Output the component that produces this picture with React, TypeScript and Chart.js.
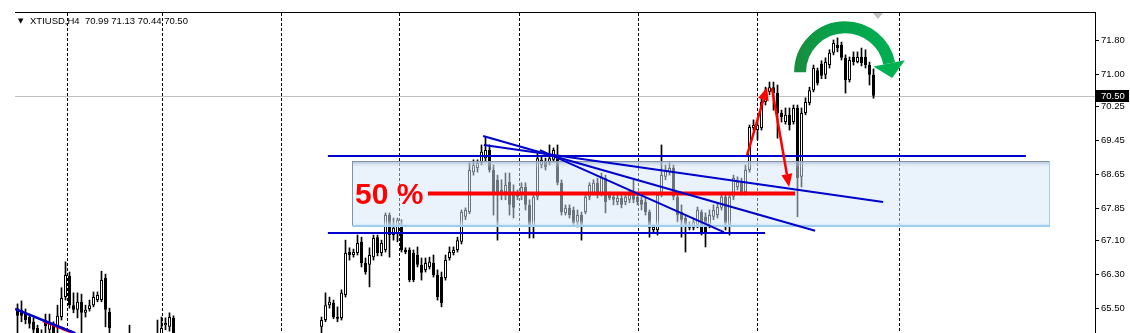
import React, { useEffect, useRef } from "react";
import { Chart, registerables } from "chart.js";

Chart.register(...registerables);

// ---- Candles (H4 XTIUSD), one slot per bar; null = bar lies below the visible window ----
const opens: (number | null)[] = [
  65.50, 65.46, 65.39, 65.29, 65.18, 65.03, 64.87, 65.22, 64.99, 65.08,
  65.06, 65.29, 65.76, 66.26, 65.57, 65.46, 65.65, 65.39, 65.48, 65.57,
  65.69, 65.69, 66.21, 65.41, null, null, null, null, 64.75, null,
  null, null, null, null, null, 64.75, 64.87, 65.10, 65.06, 65.27,
  null, null, null, null, null, null, null, null, null, null,
  null, null, null, null, null, null, null, null, null, null,
  null, null, null, null, null, null, null, null, null, null,
  null, null, null, null, null, null, 65.06, 65.22, 65.57, 65.62,
  65.29, 65.27, 65.81, 66.82, 66.75, 66.80, 67.06, 66.56, 66.52, 66.70,
  67.17, 66.80, 66.87, 67.69, 67.22, 67.27, 67.41, 66.82, 66.87, 66.80,
  66.75, 66.52, 66.40, 66.47, 66.56, 66.28, 66.23, 66.21, 66.68, 66.80,
  66.87, 67.06, 67.65, 67.76, 68.70, 68.80, 68.92, 69.03, 69.22, 68.75,
  68.52, 68.28, 68.23, 68.47, 68.16, 68.12, 68.21, 68.35, 67.93, 67.41,
  68.12, 68.87, 68.94, 68.92, 68.99, 69.03, 68.45, 67.74, 67.86, 67.81,
  67.53, 67.69, 67.76, 68.12, 68.21, 68.45, 68.21, 68.56, 68.16, 68.12,
  68.00, 68.09, 68.00, 68.05, 68.16, 68.12, 68.05, 68.00, 67.76, 67.34,
  67.34, 68.16, 68.59, 68.70, 68.80, 68.12, 67.76, 67.62, 67.39, 67.39,
  67.46, 67.76, 67.65, 67.46, 67.65, 67.69, 67.86, 68.12, 67.46, 68.12,
  68.35, 68.47, 68.23, 68.75, 69.74, 69.69, 69.74, 70.35, 70.59, 70.70,
  70.56, 70.09, 69.88, 70.05, 69.88, 70.21, 68.59, 70.09, 70.33, 70.63,
  71.10, 71.25, 70.99, 71.22, 71.51, 71.69, 71.69, 71.39, 70.87, 71.41,
  71.29, 71.41, 71.41, 71.22, 70.99,
];
const highs: (number | null)[] = [
  65.60, 65.67, 65.48, 65.36, 65.27, 65.10, 64.99, 65.36, 65.36, 65.18,
  65.57, 65.98, 66.59, 66.35, 65.86, 65.86, 65.83, 65.57, 65.69, 65.88,
  65.88, 66.37, 66.30, 65.50, null, null, null, null, 65.10, null,
  null, null, null, null, null, 65.22, 65.29, 65.27, 65.39, 65.32,
  null, null, null, null, null, null, null, null, null, null,
  null, null, null, null, null, null, null, null, null, null,
  null, null, null, null, null, null, null, null, null, null,
  null, null, null, null, null, null, 65.29, 65.86, 65.76, 65.69,
  65.53, 65.93, 67.10, 66.92, 66.89, 67.22, 67.17, 66.68, 66.92, 67.22,
  67.22, 67.10, 67.74, 67.74, 67.62, 67.62, 67.58, 66.92, 66.92, 66.87,
  66.94, 66.68, 66.68, 66.70, 66.75, 66.40, 66.35, 66.75, 66.94, 66.94,
  67.17, 67.81, 67.86, 68.92, 68.99, 68.99, 69.34, 69.53, 69.34, 68.87,
  68.63, 68.52, 68.68, 68.68, 68.40, 68.28, 68.45, 68.45, 68.05, 68.21,
  69.15, 69.06, 69.03, 69.34, 69.27, 69.34, 68.52, 67.93, 67.93, 67.88,
  67.81, 67.76, 68.21, 68.45, 68.52, 68.56, 68.68, 68.63, 68.23, 68.21,
  68.16, 68.16, 68.21, 68.28, 68.52, 68.21, 68.12, 68.09, 67.81, 67.46,
  68.21, 69.34, 68.87, 68.92, 68.87, 68.21, 67.93, 67.69, 67.53, 67.62,
  67.88, 67.81, 67.74, 67.81, 67.93, 67.98, 68.21, 68.21, 68.21, 68.63,
  68.59, 68.56, 68.87, 69.81, 69.93, 69.93, 70.45, 70.70, 70.82, 70.82,
  70.75, 70.16, 70.21, 70.21, 70.28, 70.28, 70.21, 70.45, 70.70, 71.22,
  71.15, 71.32, 71.39, 71.58, 71.81, 71.86, 71.76, 71.46, 71.41, 71.53,
  71.53, 71.62, 71.58, 71.29, 71.13,
];
const lows: (number | null)[] = [
  64.75, 65.18, 65.13, 65.03, 64.80, 64.63, 64.52, 64.87, 64.85, 64.63,
  64.87, 65.22, 65.69, 65.50, 65.39, 65.27, 64.80, 65.29, 65.43, 65.53,
  65.65, 65.65, 65.06, 64.63, null, null, null, null, 64.40, null,
  null, null, null, null, null, 64.63, 64.75, 64.99, 64.96, 64.75,
  null, null, null, null, null, null, null, null, null, null,
  null, null, null, null, null, null, null, null, null, null,
  null, null, null, null, null, null, null, null, null, null,
  null, null, null, null, null, null, 64.85, 65.18, 65.50, 65.25,
  65.18, 65.22, 65.76, 66.63, 66.70, 66.75, 66.47, 66.30, 66.00, 66.63,
  66.73, 66.73, 66.82, 66.70, 67.10, 67.06, 66.82, 66.78, 66.12, 66.12,
  66.47, 66.16, 66.35, 66.42, 66.23, 65.69, 65.53, 66.16, 66.63, 66.75,
  66.82, 67.01, 67.58, 67.72, 68.63, 68.70, 68.87, 68.94, 68.70, 67.69,
  67.10, 68.05, 68.05, 67.69, 67.62, 68.05, 68.05, 67.81, 67.15, 67.15,
  68.05, 68.80, 68.75, 68.87, 68.94, 68.40, 67.69, 67.69, 67.62, 67.46,
  67.41, 67.10, 67.72, 68.05, 68.16, 68.09, 68.14, 67.74, 68.05, 67.93,
  67.93, 67.86, 67.93, 67.98, 67.98, 67.93, 67.81, 67.69, 67.17, 67.29,
  67.22, 68.12, 68.52, 68.63, 68.05, 67.53, 67.17, 66.82, 67.34, 67.34,
  67.39, 67.22, 66.94, 67.39, 67.58, 67.62, 67.81, 67.34, 67.22, 68.05,
  68.28, 68.16, 68.16, 68.70, 69.69, 69.46, 69.69, 70.28, 70.52, 70.16,
  69.50, 69.88, 69.83, 69.69, 69.83, 67.65, 68.35, 70.05, 70.28, 70.59,
  70.75, 70.90, 70.90, 71.15, 71.46, 71.53, 71.34, 70.56, 70.82, 71.22,
  71.27, 71.20, 71.15, 70.75, 70.44,
];
const closes: (number | null)[] = [
  65.32, 65.32, 65.22, 65.13, 64.99, 64.75, 64.63, 65.08, 65.18, 64.80,
  65.32, 65.74, 66.28, 65.57, 65.46, 65.65, 65.39, 65.46, 65.57, 65.76,
  65.81, 66.16, 65.46, 65.03, null, null, null, null, 64.63, null,
  null, null, null, null, null, 64.87, 65.03, 65.15, 65.29, 64.87,
  null, null, null, null, null, null, null, null, null, null,
  null, null, null, null, null, null, null, null, null, null,
  null, null, null, null, null, null, null, null, null, null,
  null, null, null, null, null, null, 65.22, 65.57, 65.65, 65.29,
  65.25, 65.86, 66.80, 66.75, 66.82, 67.03, 66.56, 66.35, 66.75, 67.15,
  66.80, 67.03, 67.69, 67.22, 67.39, 67.58, 66.87, 66.87, 66.16, 66.16,
  66.52, 66.33, 66.56, 66.59, 66.28, 65.76, 65.62, 66.63, 66.82, 66.87,
  67.10, 67.76, 67.81, 68.75, 68.87, 68.92, 69.18, 69.22, 68.75, 68.23,
  68.23, 68.23, 68.40, 67.93, 67.86, 68.16, 68.35, 67.93, 67.41, 68.12,
  69.03, 68.99, 68.82, 69.03, 69.22, 68.45, 67.76, 67.86, 67.69, 67.50,
  67.69, 67.46, 68.12, 68.40, 68.45, 68.16, 68.59, 68.00, 68.09, 68.05,
  68.09, 67.93, 68.12, 68.16, 68.05, 68.00, 67.93, 67.76, 67.39, 67.41,
  68.16, 68.63, 68.75, 68.80, 68.12, 67.69, 67.58, 67.46, 67.46, 67.53,
  67.81, 67.29, 67.29, 67.69, 67.81, 67.88, 68.12, 67.50, 68.12, 68.56,
  68.47, 68.23, 68.75, 69.76, 69.81, 69.81, 70.35, 70.63, 70.70, 70.56,
  70.09, 70.00, 70.05, 69.81, 70.21, 68.56, 70.09, 70.35, 70.63, 71.15,
  70.80, 70.97, 71.29, 71.51, 71.74, 71.62, 71.39, 70.87, 71.34, 71.29,
  71.41, 71.27, 71.22, 70.99, 70.50,
];

// ---- Axis / header ----
const priceTicks = [71.8, 71.0, 70.25, 69.45, 68.65, 67.85, 67.1, 66.3, 65.5];
const timeGridBars = [12.375, 36.125, 65.875, 95.375, 125.375, 155.125, 184.875, 220.375];
const symbolLabel = "XTIUSD,H4";
const ohlcLabel = ["70.99", "71.13", "70.44", "70.50"];
const lastPrice = 70.5;
const shiftMarkerBar = 215.1;

// ---- Drawn objects, in (bar index, price) ----
const upperLevel = [[77.6, 69.08], [252.1, 69.08]];
const lowerLevel = [[77.6, 67.27], [186.9, 67.27]];
const fiftyLevel = [[102.6, 68.2], [194.4, 68.2]];
const trendA = [[116.6, 69.34], [216.4, 68.0]];
const trendB = [[116.4, 69.55], [199.4, 67.32]];
const trendC = [[130.6, 69.22], [176.6, 67.29]];
const oldTrendBlue = [[-0.6, 65.48], [14.4, 64.91]];
const oldTrendRed = [[6.4, 65.2], [14.4, 64.9]];
const zoneBox = { x1: 83.6, x2: 258.1, top: 68.96, bottom: 67.43 };
const arrowUp = [[182.4, 69.1], [187.4, 70.7]];
const arrowDown = [[188.6, 70.68], [192.9, 68.35]];
const turnArcCenter = [206.9, 71.05];
const fiftyLabel = { text: "50 %", x: 84.4, y: 67.94 };

const BLUE = "#0000cd";
const RED = "#ff0000";

export default function App() {
  const ref = useRef<HTMLCanvasElement>(null);

  useEffect(() => {
    const canvas = ref.current!;
    const wicks: any[] = [];
    const bodies: any[] = [];
    const bodyColors: string[] = [];
    for (let i = 0; i < opens.length; i++) {
      const o = opens[i], h = highs[i], l = lows[i], c = closes[i];
      if (o == null || h == null || l == null || c == null) continue;
      wicks.push({ x: i, y: [l, h] });
      bodies.push({ x: i, y: [o, c] });
      bodyColors.push(c >= o ? "#ffffff" : "#000000");
    }
    const seg = (pts: number[][], color: string, width: number) => ({
      type: "line" as const,
      data: pts.map(([x, y]) => ({ x, y })),
      borderColor: color,
      borderWidth: width,
      pointRadius: 0,
      fill: false,
      tension: 0,
      order: -1,
    });

    const overlay = {
      id: "overlay",
      beforeDatasetsDraw(chart: any) {
        const { ctx, chartArea: a, scales } = chart;
        const py = Math.round(scales.y.getPixelForValue(lastPrice)) + 0.5;
        ctx.save();
        ctx.strokeStyle = "#c0c0c0";
        ctx.lineWidth = 1;
        ctx.beginPath();
        ctx.moveTo(a.left, py);
        ctx.lineTo(a.right, py);
        ctx.stroke();
        ctx.restore();
      },
      afterDatasetDraw(chart: any, args: any) {
        if (args.index !== 1) return;
        const { ctx, scales } = chart;
        const x1 = Math.round(scales.x.getPixelForValue(zoneBox.x1));
        const x2 = Math.round(scales.x.getPixelForValue(zoneBox.x2));
        const y1 = Math.round(scales.y.getPixelForValue(zoneBox.top));
        const y2 = Math.round(scales.y.getPixelForValue(zoneBox.bottom));
        ctx.save();
        ctx.fillStyle = "rgba(214,231,249,0.5)";
        ctx.fillRect(x1, y1, x2 - x1, y2 - y1);
        const g = ctx.createLinearGradient(0, y1, 0, y1 + 7);
        g.addColorStop(0, "rgba(150,168,190,0.75)");
        g.addColorStop(1, "rgba(225,236,248,0)");
        ctx.fillStyle = g;
        ctx.fillRect(x1, y1, x2 - x1, 7);
        const gb = ctx.createLinearGradient(0, y2 - 6, 0, y2);
        gb.addColorStop(0, "rgba(255,255,255,0)");
        gb.addColorStop(1, "rgba(190,222,248,0.8)");
        ctx.fillStyle = gb;
        ctx.fillRect(x1, y2 - 6, x2 - x1, 6);
        ctx.fillStyle = "#7f93aa";
        ctx.fillRect(x1, y1, x2 - x1, 1);
        ctx.fillRect(x1, y1, 1, y2 - y1);
        ctx.fillStyle = "#9fcdf2";
        ctx.fillRect(x1, y2 - 1, x2 - x1, 2);
        ctx.fillRect(x2 - 1, y1, 1, y2 - y1);
        ctx.restore();
      },
      afterDatasetsDraw(chart: any) {
        const { ctx, scales } = chart;
        const P = (p: number[]) => [scales.x.getPixelForValue(p[0]), scales.y.getPixelForValue(p[1])];
        const arrow = (a: number[][], color: string) => {
          const [x1, y1] = P(a[0]);
          const [x2, y2] = P(a[1]);
          const ang = Math.atan2(y2 - y1, x2 - x1);
          const hl = 13, hw = 11;
          const bx = x2 - hl * Math.cos(ang), by = y2 - hl * Math.sin(ang);
          ctx.strokeStyle = color;
          ctx.lineWidth = 2.5;
          ctx.beginPath();
          ctx.moveTo(x1, y1);
          ctx.lineTo(bx, by);
          ctx.stroke();
          ctx.fillStyle = color;
          ctx.beginPath();
          ctx.moveTo(x2, y2);
          ctx.lineTo(bx + (hw / 2) * Math.sin(ang), by - (hw / 2) * Math.cos(ang));
          ctx.lineTo(bx - (hw / 2) * Math.sin(ang), by + (hw / 2) * Math.cos(ang));
          ctx.closePath();
          ctx.fill();
        };
        ctx.save();
        arrow(arrowUp, RED);
        arrow(arrowDown, RED);

        // curved green arrow
        const [cx, cy] = P(turnArcCenter);
        const r = 45;
        const th = -0.2;
        const g = ctx.createLinearGradient(cx - r - 7, 0, cx + r + 16, 0);
        g.addColorStop(0, "#1b8a3c");
        g.addColorStop(0.3, "#08a04a");
        g.addColorStop(1, "#00b152");
        ctx.strokeStyle = g;
        ctx.lineWidth = 12;
        ctx.beginPath();
        ctx.arc(cx, cy, r, Math.PI, 2 * Math.PI + th);
        ctx.stroke();
        const ex = cx + r * Math.cos(th), ey = cy + r * Math.sin(th);
        const nx = Math.cos(th), ny = Math.sin(th);
        const tx = -Math.sin(th), ty = Math.cos(th);
        ctx.fillStyle = "#00b152";
        ctx.beginPath();
        ctx.moveTo(ex + nx * 16, ey + ny * 16);
        ctx.lineTo(ex - nx * 16, ey - ny * 16);
        ctx.lineTo(ex + tx * 15, ey + ty * 15);
        ctx.closePath();
        ctx.fill();

        // 50 % label
        const [lx, ly] = P([fiftyLabel.x, fiftyLabel.y]);
        ctx.fillStyle = RED;
        ctx.font = 'bold 30px "Liberation Sans"';
        ctx.textBaseline = "alphabetic";
        ctx.textAlign = "left";
        ctx.fillText(fiftyLabel.text, lx, ly);
        ctx.restore();
      },
      afterDraw(chart: any) {
        const { ctx, chartArea: a, scales } = chart;
        ctx.save();
        // top frame line
        ctx.fillStyle = "#000";
        ctx.fillRect(a.left, a.top - 1, a.right - a.left + 1, 1);
        // shift marker
        const mx = scales.x.getPixelForValue(shiftMarkerBar);
        ctx.fillStyle = "#c0c0c0";
        ctx.beginPath();
        ctx.moveTo(mx - 5, a.top);
        ctx.lineTo(mx + 5, a.top);
        ctx.lineTo(mx, a.top + 6);
        ctx.closePath();
        ctx.fill();
        // header
        ctx.fillStyle = "#000";
        ctx.textBaseline = "middle";
        ctx.textAlign = "left";
        ctx.font = '7px "DejaVu Sans"';
        ctx.fillText("▼", 18, 21.5);
        ctx.font = '9.5px "Liberation Sans"';
        ctx.fillText(symbolLabel + "  " + ohlcLabel.join(" "), 30, 21.5);
        // last price label
        const py = Math.round(scales.y.getPixelForValue(lastPrice));
        ctx.fillStyle = "#000";
        ctx.fillRect(a.right + 1, py - 6, 33, 12);
        ctx.fillStyle = "#fff";
        ctx.font = '9.5px "Liberation Sans"';
        ctx.fillText(lastPrice.toFixed(2), a.right + 6, py + 0.5);
        ctx.restore();
      },
    };

    const chart = new Chart(canvas, {
      type: "bar",
      data: {
        datasets: [
          { label: "wicks", data: wicks, backgroundColor: "#000", barThickness: 1, grouped: false, order: 2 } as any,
          {
            label: "bodies",
            data: bodies,
            backgroundColor: bodyColors,
            borderColor: "#000",
            borderWidth: 1,
            borderSkipped: false,
            inflateAmount: 0,
            barThickness: 3,
            minBarLength: 1,
            grouped: false,
            order: 1,
          } as any,
          seg(upperLevel, BLUE, 2),
          seg(lowerLevel, BLUE, 2),
          seg(trendA, BLUE, 2),
          seg(trendB, BLUE, 2),
          seg(trendC, BLUE, 2),
          seg(oldTrendBlue, BLUE, 2.5),
          seg(oldTrendRed, RED, 3),
          seg(fiftyLevel, RED, 4),
        ],
      },
      options: {
        responsive: false,
        animation: false,
        events: [],
        layout: { padding: { left: 15, top: 13, right: 0, bottom: 0 } },
        plugins: { legend: { display: false }, tooltip: { enabled: false } },
        scales: {
          x: {
            type: "linear",
            min: -0.625,
            max: 269.375,
            offset: false,
            afterBuildTicks: (s: any) => {
              s.ticks = timeGridBars.map((v) => ({ value: v }));
            },
            afterFit: (s: any) => {
              s.height = 0;
              s.paddingLeft = 0;
              s.paddingRight = 0;
            },
            ticks: { display: false },
            grid: { color: "#000", lineWidth: 1, drawTicks: false, offset: false },
            border: { display: false, dash: [3, 2] },
          },
          y: {
            type: "linear",
            position: "right",
            min: 64.915,
            max: 72.445,
            afterBuildTicks: (s: any) => {
              s.ticks = priceTicks.map((v) => ({ value: v }));
            },
            afterFit: (s: any) => {
              s.width = 35;
              s.paddingTop = 0;
              s.paddingBottom = 0;
            },
            ticks: {
              color: "#000",
              padding: 2,
              autoSkip: false,
              font: { family: "Liberation Sans", size: 9.5 },
              callback: (v: any) => Number(v).toFixed(2),
            },
            grid: { drawOnChartArea: false, drawTicks: true, tickLength: 4, color: "#000" },
            border: { display: true, color: "#000" },
          },
        },
      } as any,
      plugins: [overlay],
    });
    return () => chart.destroy();
  }, []);

  return (
    <div style={{ position: "fixed", left: 0, top: 0, width: 1130, height: 333, background: "#fff" }}>
      <canvas ref={ref} width={1130} height={333} style={{ display: "block" }} />
    </div>
  );
}
